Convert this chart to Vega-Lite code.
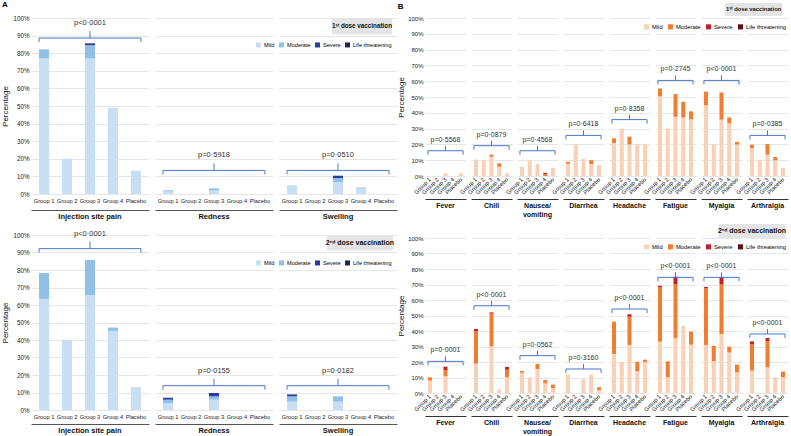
{
"$schema": "https://vega.github.io/schema/vega-lite/v6.json",
"padding": {"left": 1, "top": 1, "right": 1, "bottom": 1},
"config": {"font": "Liberation Sans", "view": {"stroke": null}, "title": {"font": "Liberation Sans"}, "axis": {"labelOverlap": false}},
"spacing": 0,
"resolve": {"scale": {"color": "independent"}},
"hconcat": [
{
"title": {"text": "A", "anchor": "start", "fontSize": 8, "fontWeight": "bold", "offset": 6, "frame": "bounds"},
"spacing": 8,
"resolve": {"scale": {"color": "independent"}},
"vconcat": [
{
"data": {"values": [
{"t":"bar","sym":"Injection site pain","grp":"Group 1","sev":"Mild","rk":1,"pct":77},
{"t":"bar","sym":"Injection site pain","grp":"Group 1","sev":"Moderate","rk":2,"pct":5.2},
{"t":"bar","sym":"Injection site pain","grp":"Group 2","sev":"Mild","rk":1,"pct":20},
{"t":"bar","sym":"Injection site pain","grp":"Group 3","sev":"Mild","rk":1,"pct":77},
{"t":"bar","sym":"Injection site pain","grp":"Group 3","sev":"Moderate","rk":2,"pct":7.5},
{"t":"bar","sym":"Injection site pain","grp":"Group 3","sev":"Severe","rk":3,"pct":1.1},
{"t":"bar","sym":"Injection site pain","grp":"Group 4","sev":"Mild","rk":1,"pct":49},
{"t":"bar","sym":"Injection site pain","grp":"Placebo","sev":"Mild","rk":1,"pct":13.3},
{"t":"bar","sym":"Redness","grp":"Group 1","sev":"Mild","rk":1,"pct":1.5},
{"t":"bar","sym":"Redness","grp":"Group 1","sev":"Moderate","rk":2,"pct":0.6},
{"t":"bar","sym":"Redness","grp":"Group 3","sev":"Mild","rk":1,"pct":2},
{"t":"bar","sym":"Redness","grp":"Group 3","sev":"Moderate","rk":2,"pct":1.2},
{"t":"bar","sym":"Swelling","grp":"Group 1","sev":"Mild","rk":1,"pct":5},
{"t":"bar","sym":"Swelling","grp":"Group 3","sev":"Mild","rk":1,"pct":6.6},
{"t":"bar","sym":"Swelling","grp":"Group 3","sev":"Moderate","rk":2,"pct":2.5},
{"t":"bar","sym":"Swelling","grp":"Group 3","sev":"Severe","rk":3,"pct":1.3},
{"t":"bar","sym":"Swelling","grp":"Group 4","sev":"Mild","rk":1,"pct":4},
{"t":"br","sym":"Injection site pain","lvl":88.6,"p":"p<0·0001"},
{"t":"br","sym":"Redness","lvl":13.4,"p":"p=0·5918"},
{"t":"br","sym":"Swelling","lvl":13.4,"p":"p=0·0510"},
{"t":"box","sym":"Swelling","label":"1ˢᵗ dose vaccination"}
]},
"facet": {"column": {"field": "sym", "type": "nominal", "sort": ["Injection site pain", "Redness", "Swelling"], "title": null, "header": {"labelOrient": "bottom", "labelFontWeight": "bold", "labelFontSize": 7.5, "labelPadding": 3, "labelColor": "#111"}}},
"spacing": 6,
"bounds": "flush",
"spec": {
"width": 118, "height": 176,
"layer": [
{"transform": [{"filter": "datum.t === 'bar'"}], "mark": {"type": "bar"},
 "encoding": {
  "x": {"field": "grp", "type": "nominal", "scale": {"domain": ["Group 1","Group 2","Group 3","Group 4","Placebo"], "paddingInner": 0.56, "paddingOuter": 0.35}, "axis": {"title": null, "labelAngle": 0, "ticks": false, "tickSize": 0, "offset": 16, "labelPadding": -13, "labelFontSize": 5.7, "labelOverlap": false, "labelColor": "#222", "domainColor": "#555", "grid": false}},
  "y": {"field": "pct", "type": "quantitative", "scale": {"domain": [0, 100]}, "axis": {"tickCount": 10, "labelExpr": "datum.value + '%'", "labelOverlap": false, "title": "Percentage", "domain": false, "ticks": false, "grid": true, "gridColor": "#e6e6e6", "labelFontSize": 6.3, "labelPadding": 2, "titleFontSize": 8, "titleFontWeight": "normal", "titlePadding": 3, "labelColor": "#222", "titleColor": "#111"}},
  "color": {"field": "sev", "type": "nominal", "scale": {"domain": ["Mild","Moderate","Severe","Life threatening"], "range": ["#c8def2","#8ec0e8","#2b3d99","#1e2454"]}, "legend": {"title": null, "orient": "none", "legendX": 224, "legendY": 23, "direction": "horizontal", "symbolType": "square", "symbolSize": 25, "labelFontSize": 5.6, "columnPadding": 3, "labelOffset": 2, "padding": 0}},
  "order": {"field": "rk", "type": "quantitative"}
 }},
{"transform": [{"filter": "datum.t === 'br'"}], "mark": {"type": "rule", "color": "#4b78c9", "strokeWidth": 1},
 "encoding": {"x": {"datum": "Group 1", "type": "nominal", "bandPosition": 0}, "x2": {"datum": "Placebo", "bandPosition": 1}, "y": {"field": "lvl", "type": "quantitative"}}},
{"transform": [{"filter": "datum.t === 'br'"}], "mark": {"type": "point", "shape": "M0,0L0,1", "size": 64, "filled": false, "color": "#4b78c9", "strokeWidth": 1, "opacity": 1},
 "encoding": {"x": {"datum": "Group 1", "type": "nominal", "bandPosition": 0}, "y": {"field": "lvl", "type": "quantitative"}}},
{"transform": [{"filter": "datum.t === 'br'"}], "mark": {"type": "point", "shape": "M0,0L0,1", "size": 64, "filled": false, "color": "#4b78c9", "strokeWidth": 1, "opacity": 1},
 "encoding": {"x": {"datum": "Placebo", "type": "nominal", "bandPosition": 1}, "y": {"field": "lvl", "type": "quantitative"}}},
{"transform": [{"filter": "datum.t === 'br'"}], "mark": {"type": "point", "shape": "M0,0L0,-1", "size": 196, "filled": false, "color": "#4b78c9", "strokeWidth": 1, "opacity": 1},
 "encoding": {"x": {"datum": "Group 3", "type": "nominal"}, "y": {"field": "lvl", "type": "quantitative"}}},
{"transform": [{"filter": "datum.t === 'br'"}], "mark": {"type": "text", "dy": -15, "fontSize": 7.5, "color": "#333"},
 "encoding": {"x": {"datum": "Group 3", "type": "nominal"}, "y": {"field": "lvl", "type": "quantitative"}, "text": {"field": "p"}}},
{"transform": [{"filter": "datum.t === 'box'"}], "mark": {"type": "point", "shape": "M-1,-0.27H1V0.27H-1Z", "size": 3600, "filled": true, "color": "#e4e4e4", "opacity": 1, "strokeWidth": 0},
 "encoding": {"x": {"datum": "Group 4", "type": "nominal", "bandPosition": 0.6}, "y": {"datum": 95.4, "type": "quantitative"}}},
{"transform": [{"filter": "datum.t === 'box'"}], "mark": {"type": "text", "fontSize": 6.3, "fontWeight": "bold", "color": "#111"},
 "encoding": {"x": {"datum": "Group 4", "type": "nominal", "bandPosition": 0.6}, "y": {"datum": 95.4, "type": "quantitative"}, "text": {"field": "label"}}}
]
}
},
{
"data": {"values": [
{"t":"bar","sym":"Injection site pain","grp":"Group 1","sev":"Mild","rk":1,"pct":63.5},
{"t":"bar","sym":"Injection site pain","grp":"Group 1","sev":"Moderate","rk":2,"pct":14.8},
{"t":"bar","sym":"Injection site pain","grp":"Group 2","sev":"Mild","rk":1,"pct":40},
{"t":"bar","sym":"Injection site pain","grp":"Group 3","sev":"Mild","rk":1,"pct":65.6},
{"t":"bar","sym":"Injection site pain","grp":"Group 3","sev":"Moderate","rk":2,"pct":20.1},
{"t":"bar","sym":"Injection site pain","grp":"Group 4","sev":"Mild","rk":1,"pct":45.2},
{"t":"bar","sym":"Injection site pain","grp":"Group 4","sev":"Moderate","rk":2,"pct":1.9},
{"t":"bar","sym":"Injection site pain","grp":"Placebo","sev":"Mild","rk":1,"pct":13.1},
{"t":"bar","sym":"Redness","grp":"Group 1","sev":"Mild","rk":1,"pct":4},
{"t":"bar","sym":"Redness","grp":"Group 1","sev":"Moderate","rk":2,"pct":1.9},
{"t":"bar","sym":"Redness","grp":"Group 1","sev":"Severe","rk":3,"pct":1.1},
{"t":"bar","sym":"Redness","grp":"Group 3","sev":"Mild","rk":1,"pct":5.9},
{"t":"bar","sym":"Redness","grp":"Group 3","sev":"Moderate","rk":2,"pct":1.9},
{"t":"bar","sym":"Redness","grp":"Group 3","sev":"Severe","rk":3,"pct":1.9},
{"t":"bar","sym":"Swelling","grp":"Group 1","sev":"Mild","rk":1,"pct":4.8},
{"t":"bar","sym":"Swelling","grp":"Group 1","sev":"Moderate","rk":2,"pct":3},
{"t":"bar","sym":"Swelling","grp":"Group 1","sev":"Severe","rk":3,"pct":1.1},
{"t":"bar","sym":"Swelling","grp":"Group 3","sev":"Mild","rk":1,"pct":4.8},
{"t":"bar","sym":"Swelling","grp":"Group 3","sev":"Moderate","rk":2,"pct":3},
{"t":"br","sym":"Injection site pain","lvl":92.2,"p":"p<0·0001"},
{"t":"br","sym":"Redness","lvl":13.9,"p":"p=0·0155"},
{"t":"br","sym":"Swelling","lvl":13.9,"p":"p=0·0182"},
{"t":"box","sym":"Swelling","label":"2ⁿᵈ dose vaccination"}
]},
"facet": {"column": {"field": "sym", "type": "nominal", "sort": ["Injection site pain", "Redness", "Swelling"], "title": null, "header": {"labelOrient": "bottom", "labelFontWeight": "bold", "labelFontSize": 7.5, "labelPadding": 3, "labelColor": "#111"}}},
"spacing": 6,
"bounds": "flush",
"spec": {
"width": 118, "height": 175,
"layer": [
{"transform": [{"filter": "datum.t === 'bar'"}], "mark": {"type": "bar"},
 "encoding": {
  "x": {"field": "grp", "type": "nominal", "scale": {"domain": ["Group 1","Group 2","Group 3","Group 4","Placebo"], "paddingInner": 0.56, "paddingOuter": 0.35}, "axis": {"title": null, "labelAngle": 0, "ticks": false, "tickSize": 0, "offset": 14, "labelPadding": -11, "labelFontSize": 5.7, "labelOverlap": false, "labelColor": "#222", "domainColor": "#555", "grid": false}},
  "y": {"field": "pct", "type": "quantitative", "scale": {"domain": [0, 100]}, "axis": {"tickCount": 10, "labelExpr": "datum.value + '%'", "labelOverlap": false, "title": "Percentage", "domain": false, "ticks": false, "grid": true, "gridColor": "#e6e6e6", "labelFontSize": 6.3, "labelPadding": 2, "titleFontSize": 8, "titleFontWeight": "normal", "titlePadding": 3, "labelColor": "#222", "titleColor": "#111"}},
  "color": {"field": "sev", "type": "nominal", "scale": {"domain": ["Mild","Moderate","Severe","Life threatening"], "range": ["#c8def2","#8ec0e8","#2b3d99","#1e2454"]}, "legend": {"title": null, "orient": "none", "legendX": 224, "legendY": 24, "direction": "horizontal", "symbolType": "square", "symbolSize": 25, "labelFontSize": 5.6, "columnPadding": 3, "labelOffset": 2, "padding": 0}},
  "order": {"field": "rk", "type": "quantitative"}
 }},
{"transform": [{"filter": "datum.t === 'br'"}], "mark": {"type": "rule", "color": "#4b78c9", "strokeWidth": 1},
 "encoding": {"x": {"datum": "Group 1", "type": "nominal", "bandPosition": 0}, "x2": {"datum": "Placebo", "bandPosition": 1}, "y": {"field": "lvl", "type": "quantitative"}}},
{"transform": [{"filter": "datum.t === 'br'"}], "mark": {"type": "point", "shape": "M0,0L0,1", "size": 64, "filled": false, "color": "#4b78c9", "strokeWidth": 1, "opacity": 1},
 "encoding": {"x": {"datum": "Group 1", "type": "nominal", "bandPosition": 0}, "y": {"field": "lvl", "type": "quantitative"}}},
{"transform": [{"filter": "datum.t === 'br'"}], "mark": {"type": "point", "shape": "M0,0L0,1", "size": 64, "filled": false, "color": "#4b78c9", "strokeWidth": 1, "opacity": 1},
 "encoding": {"x": {"datum": "Placebo", "type": "nominal", "bandPosition": 1}, "y": {"field": "lvl", "type": "quantitative"}}},
{"transform": [{"filter": "datum.t === 'br'"}], "mark": {"type": "point", "shape": "M0,0L0,-1", "size": 196, "filled": false, "color": "#4b78c9", "strokeWidth": 1, "opacity": 1},
 "encoding": {"x": {"datum": "Group 3", "type": "nominal"}, "y": {"field": "lvl", "type": "quantitative"}}},
{"transform": [{"filter": "datum.t === 'br'"}], "mark": {"type": "text", "dy": -15, "fontSize": 7.5, "color": "#333"},
 "encoding": {"x": {"datum": "Group 3", "type": "nominal"}, "y": {"field": "lvl", "type": "quantitative"}, "text": {"field": "p"}}},
{"transform": [{"filter": "datum.t === 'box'"}], "mark": {"type": "point", "shape": "M-1,-0.23H1V0.23H-1Z", "size": 4356, "filled": true, "color": "#e4e4e4", "opacity": 1, "strokeWidth": 0},
 "encoding": {"x": {"datum": "Group 4", "type": "nominal", "bandPosition": 0.4}, "y": {"datum": 95.6, "type": "quantitative"}}},
{"transform": [{"filter": "datum.t === 'box'"}], "mark": {"type": "text", "fontSize": 7, "fontWeight": "bold", "color": "#111"},
 "encoding": {"x": {"datum": "Group 4", "type": "nominal", "bandPosition": 0.4}, "y": {"datum": 95.6, "type": "quantitative"}, "text": {"field": "label"}}}
]
}
}
]
},
{
"title": {"text": "B", "anchor": "start", "fontSize": 8, "fontWeight": "bold", "offset": -8, "frame": "bounds"},
"spacing": 5,
"resolve": {"scale": {"color": "independent"}},
"vconcat": [
{
"data": {"values": [
{"t":"bar","sym":"Fever","grp":"Group 3","sev":"Mild","rk":1,"pct":1.7},
{"t":"bar","sym":"Fever","grp":"Placebo","sev":"Mild","rk":1,"pct":1.7},
{"t":"bar","sym":"Chill","grp":"Group 1","sev":"Mild","rk":1,"pct":10.5},
{"t":"bar","sym":"Chill","grp":"Group 2","sev":"Mild","rk":1,"pct":10},
{"t":"bar","sym":"Chill","grp":"Group 3","sev":"Mild","rk":1,"pct":12.2},
{"t":"bar","sym":"Chill","grp":"Group 3","sev":"Moderate","rk":2,"pct":1.3},
{"t":"bar","sym":"Chill","grp":"Group 4","sev":"Mild","rk":1,"pct":5.9},
{"t":"bar","sym":"Chill","grp":"Group 4","sev":"Moderate","rk":2,"pct":2.1},
{"t":"bar","sym":"Chill","grp":"Placebo","sev":"Mild","rk":1,"pct":1.7},
{"t":"bar","sym":"Nausea/ vomiting","grp":"Group 1","sev":"Mild","rk":1,"pct":5.9},
{"t":"bar","sym":"Nausea/ vomiting","grp":"Group 2","sev":"Mild","rk":1,"pct":10},
{"t":"bar","sym":"Nausea/ vomiting","grp":"Group 3","sev":"Mild","rk":1,"pct":7.6},
{"t":"bar","sym":"Nausea/ vomiting","grp":"Group 4","sev":"Moderate","rk":2,"pct":1.2},
{"t":"bar","sym":"Nausea/ vomiting","grp":"Group 4","sev":"Severe","rk":3,"pct":0.8},
{"t":"bar","sym":"Nausea/ vomiting","grp":"Placebo","sev":"Mild","rk":1,"pct":5},
{"t":"bar","sym":"Diarrhea","grp":"Group 1","sev":"Mild","rk":1,"pct":7.8},
{"t":"bar","sym":"Diarrhea","grp":"Group 1","sev":"Moderate","rk":2,"pct":1.1},
{"t":"bar","sym":"Diarrhea","grp":"Group 2","sev":"Mild","rk":1,"pct":20},
{"t":"bar","sym":"Diarrhea","grp":"Group 3","sev":"Mild","rk":1,"pct":10.8},
{"t":"bar","sym":"Diarrhea","grp":"Group 4","sev":"Mild","rk":1,"pct":7.6},
{"t":"bar","sym":"Diarrhea","grp":"Group 4","sev":"Moderate","rk":2,"pct":2.4},
{"t":"bar","sym":"Diarrhea","grp":"Placebo","sev":"Mild","rk":1,"pct":6.8},
{"t":"bar","sym":"Headache","grp":"Group 1","sev":"Mild","rk":1,"pct":20.9},
{"t":"bar","sym":"Headache","grp":"Group 1","sev":"Moderate","rk":2,"pct":2.9},
{"t":"bar","sym":"Headache","grp":"Group 2","sev":"Mild","rk":1,"pct":30},
{"t":"bar","sym":"Headache","grp":"Group 3","sev":"Mild","rk":1,"pct":20},
{"t":"bar","sym":"Headache","grp":"Group 3","sev":"Moderate","rk":2,"pct":4.9},
{"t":"bar","sym":"Headache","grp":"Group 4","sev":"Mild","rk":1,"pct":20},
{"t":"bar","sym":"Headache","grp":"Placebo","sev":"Mild","rk":1,"pct":20},
{"t":"bar","sym":"Fatigue","grp":"Group 1","sev":"Mild","rk":1,"pct":50.4},
{"t":"bar","sym":"Fatigue","grp":"Group 1","sev":"Moderate","rk":2,"pct":5},
{"t":"bar","sym":"Fatigue","grp":"Group 2","sev":"Mild","rk":1,"pct":30},
{"t":"bar","sym":"Fatigue","grp":"Group 3","sev":"Mild","rk":1,"pct":37.5},
{"t":"bar","sym":"Fatigue","grp":"Group 3","sev":"Moderate","rk":2,"pct":14.3},
{"t":"bar","sym":"Fatigue","grp":"Group 4","sev":"Mild","rk":1,"pct":37},
{"t":"bar","sym":"Fatigue","grp":"Group 4","sev":"Moderate","rk":2,"pct":10},
{"t":"bar","sym":"Fatigue","grp":"Placebo","sev":"Mild","rk":1,"pct":36},
{"t":"bar","sym":"Fatigue","grp":"Placebo","sev":"Moderate","rk":2,"pct":4.9},
{"t":"bar","sym":"Myalgia","grp":"Group 1","sev":"Mild","rk":1,"pct":44.7},
{"t":"bar","sym":"Myalgia","grp":"Group 1","sev":"Moderate","rk":2,"pct":8.7},
{"t":"bar","sym":"Myalgia","grp":"Group 2","sev":"Mild","rk":1,"pct":20},
{"t":"bar","sym":"Myalgia","grp":"Group 3","sev":"Mild","rk":1,"pct":35.7},
{"t":"bar","sym":"Myalgia","grp":"Group 3","sev":"Moderate","rk":2,"pct":17.2},
{"t":"bar","sym":"Myalgia","grp":"Group 4","sev":"Mild","rk":1,"pct":33.3},
{"t":"bar","sym":"Myalgia","grp":"Group 4","sev":"Moderate","rk":2,"pct":3.8},
{"t":"bar","sym":"Myalgia","grp":"Placebo","sev":"Mild","rk":1,"pct":20},
{"t":"bar","sym":"Myalgia","grp":"Placebo","sev":"Moderate","rk":2,"pct":1.5},
{"t":"bar","sym":"Arthralgia","grp":"Group 1","sev":"Mild","rk":1,"pct":17.7},
{"t":"bar","sym":"Arthralgia","grp":"Group 1","sev":"Moderate","rk":2,"pct":2.1},
{"t":"bar","sym":"Arthralgia","grp":"Group 2","sev":"Mild","rk":1,"pct":10.1},
{"t":"bar","sym":"Arthralgia","grp":"Group 3","sev":"Mild","rk":1,"pct":13.5},
{"t":"bar","sym":"Arthralgia","grp":"Group 3","sev":"Moderate","rk":2,"pct":6.7},
{"t":"bar","sym":"Arthralgia","grp":"Group 4","sev":"Mild","rk":1,"pct":10},
{"t":"bar","sym":"Arthralgia","grp":"Group 4","sev":"Moderate","rk":2,"pct":2},
{"t":"bar","sym":"Arthralgia","grp":"Placebo","sev":"Mild","rk":1,"pct":5},
{"t":"br","sym":"Fever","lvl":16,"p":"p=0·5568"},
{"t":"br","sym":"Chill","lvl":19.2,"p":"p=0·0879"},
{"t":"br","sym":"Nausea/ vomiting","lvl":16,"p":"p=0·4568"},
{"t":"br","sym":"Diarrhea","lvl":25.7,"p":"p=0·6418"},
{"t":"br","sym":"Headache","lvl":35.7,"p":"p=0·8358"},
{"t":"br","sym":"Fatigue","lvl":60.5,"p":"p=0·2745"},
{"t":"br","sym":"Myalgia","lvl":60.5,"p":"p<0·0001"},
{"t":"br","sym":"Arthralgia","lvl":25.7,"p":"p=0·0385"},
{"t":"box","sym":"Arthralgia","label":"1ˢᵗ dose vaccination"}
]},
"facet": {"column": {"field": "sym", "type": "nominal", "sort": ["Fever","Chill","Nausea/ vomiting","Diarrhea","Headache","Fatigue","Myalgia","Arthralgia"], "title": null, "header": {"labelOrient": "bottom", "labelFontWeight": "bold", "labelFontSize": 7, "labelPadding": 3, "labelColor": "#111", "labelExpr": "datum.value == 'Nausea/ vomiting' ? ['Nausea/', 'vomiting'] : datum.value"}}},
"spacing": 5,
"bounds": "flush",
"spec": {
"width": 41, "height": 158,
"layer": [
{"transform": [{"filter": "datum.t === 'bar'"}], "mark": {"type": "bar"},
 "encoding": {
  "x": {"field": "grp", "type": "nominal", "scale": {"domain": ["Group 1","Group 2","Group 3","Group 4","Placebo"], "paddingInner": 0.48, "paddingOuter": 0.38}, "axis": {"title": null, "labelAngle": -45, "labelAlign": "right", "labelBaseline": "middle", "ticks": false, "tickSize": 0, "offset": 23, "labelPadding": -21, "labelFontSize": 5.8, "labelOverlap": false, "labelColor": "#222", "domainColor": "#333", "grid": false}},
  "y": {"field": "pct", "type": "quantitative", "scale": {"domain": [0, 100]}, "axis": {"tickCount": 10, "labelExpr": "datum.value + '%'", "labelOverlap": false, "title": "Percentage", "domain": false, "ticks": false, "grid": true, "gridColor": "#e6e6e6", "labelFontSize": 6, "labelPadding": 2, "titleFontSize": 8, "titleFontWeight": "normal", "titlePadding": 2, "labelColor": "#222", "titleColor": "#111"}},
  "color": {"field": "sev", "type": "nominal", "scale": {"domain": ["Mild","Moderate","Severe","Life threatening"], "range": ["#f8d1b6","#ee7f32","#c1222e","#5a1212"]}, "legend": {"title": null, "orient": "none", "legendX": 218, "legendY": 5, "direction": "horizontal", "symbolType": "square", "symbolSize": 26, "labelFontSize": 5.8, "columnPadding": 4, "labelOffset": 2, "padding": 0}},
  "order": {"field": "rk", "type": "quantitative"}
 }},
{"transform": [{"filter": "datum.t === 'br'"}], "mark": {"type": "rule", "color": "#4b78c9", "strokeWidth": 1},
 "encoding": {"x": {"datum": "Group 1", "type": "nominal", "bandPosition": 0}, "x2": {"datum": "Placebo", "bandPosition": 1}, "y": {"field": "lvl", "type": "quantitative"}}},
{"transform": [{"filter": "datum.t === 'br'"}], "mark": {"type": "point", "shape": "M0,0L0,1", "size": 64, "filled": false, "color": "#4b78c9", "strokeWidth": 1, "opacity": 1},
 "encoding": {"x": {"datum": "Group 1", "type": "nominal", "bandPosition": 0}, "y": {"field": "lvl", "type": "quantitative"}}},
{"transform": [{"filter": "datum.t === 'br'"}], "mark": {"type": "point", "shape": "M0,0L0,1", "size": 64, "filled": false, "color": "#4b78c9", "strokeWidth": 1, "opacity": 1},
 "encoding": {"x": {"datum": "Placebo", "type": "nominal", "bandPosition": 1}, "y": {"field": "lvl", "type": "quantitative"}}},
{"transform": [{"filter": "datum.t === 'br'"}], "mark": {"type": "point", "shape": "M0,0L0,-1", "size": 100, "filled": false, "color": "#4b78c9", "strokeWidth": 1, "opacity": 1},
 "encoding": {"x": {"datum": "Group 3", "type": "nominal"}, "y": {"field": "lvl", "type": "quantitative"}}},
{"transform": [{"filter": "datum.t === 'br'"}], "mark": {"type": "text", "dy": -11, "fontSize": 7, "color": "#333"},
 "encoding": {"x": {"datum": "Group 3", "type": "nominal"}, "y": {"field": "lvl", "type": "quantitative"}, "text": {"field": "p"}}},
{"transform": [{"filter": "datum.t === 'box'"}], "mark": {"type": "point", "shape": "M-1,-0.23H1V0.23H-1Z", "size": 3249, "filled": true, "color": "#e4e4e4", "opacity": 1, "strokeWidth": 0},
 "encoding": {"x": {"datum": "Group 1", "type": "nominal", "bandPosition": 0.9}, "y": {"datum": 105.4, "type": "quantitative"}}},
{"transform": [{"filter": "datum.t === 'box'"}], "mark": {"type": "text", "fontSize": 5.8, "fontWeight": "bold", "color": "#111"},
 "encoding": {"x": {"datum": "Group 1", "type": "nominal", "bandPosition": 0.9}, "y": {"datum": 105.4, "type": "quantitative"}, "text": {"field": "label"}}}
]
}
},
{
"data": {"values": [
{"t":"bar","sym":"Fever","grp":"Group 1","sev":"Mild","rk":1,"pct":8},
{"t":"bar","sym":"Fever","grp":"Group 1","sev":"Moderate","rk":2,"pct":2.1},
{"t":"bar","sym":"Fever","grp":"Group 3","sev":"Mild","rk":1,"pct":10.8},
{"t":"bar","sym":"Fever","grp":"Group 3","sev":"Moderate","rk":2,"pct":4},
{"t":"bar","sym":"Fever","grp":"Group 3","sev":"Severe","rk":3,"pct":2.2},
{"t":"bar","sym":"Chill","grp":"Group 1","sev":"Mild","rk":1,"pct":18.9},
{"t":"bar","sym":"Chill","grp":"Group 1","sev":"Moderate","rk":2,"pct":21.1},
{"t":"bar","sym":"Chill","grp":"Group 1","sev":"Severe","rk":3,"pct":1.3},
{"t":"bar","sym":"Chill","grp":"Group 3","sev":"Mild","rk":1,"pct":30.1},
{"t":"bar","sym":"Chill","grp":"Group 3","sev":"Moderate","rk":2,"pct":21.1},
{"t":"bar","sym":"Chill","grp":"Group 3","sev":"Severe","rk":3,"pct":0.8},
{"t":"bar","sym":"Chill","grp":"Group 4","sev":"Mild","rk":1,"pct":2.4},
{"t":"bar","sym":"Chill","grp":"Placebo","sev":"Mild","rk":1,"pct":10.1},
{"t":"bar","sym":"Chill","grp":"Placebo","sev":"Moderate","rk":2,"pct":4.9},
{"t":"bar","sym":"Chill","grp":"Placebo","sev":"Severe","rk":3,"pct":1.8},
{"t":"bar","sym":"Nausea/ vomiting","grp":"Group 1","sev":"Mild","rk":1,"pct":13.1},
{"t":"bar","sym":"Nausea/ vomiting","grp":"Group 1","sev":"Moderate","rk":2,"pct":1.1},
{"t":"bar","sym":"Nausea/ vomiting","grp":"Group 2","sev":"Mild","rk":1,"pct":10.1},
{"t":"bar","sym":"Nausea/ vomiting","grp":"Group 3","sev":"Mild","rk":1,"pct":15.5},
{"t":"bar","sym":"Nausea/ vomiting","grp":"Group 3","sev":"Moderate","rk":2,"pct":3.2},
{"t":"bar","sym":"Nausea/ vomiting","grp":"Group 4","sev":"Mild","rk":1,"pct":6.2},
{"t":"bar","sym":"Nausea/ vomiting","grp":"Group 4","sev":"Moderate","rk":2,"pct":2.2},
{"t":"bar","sym":"Nausea/ vomiting","grp":"Placebo","sev":"Mild","rk":1,"pct":3.2},
{"t":"bar","sym":"Nausea/ vomiting","grp":"Placebo","sev":"Moderate","rk":2,"pct":2.2},
{"t":"bar","sym":"Diarrhea","grp":"Group 1","sev":"Mild","rk":1,"pct":12},
{"t":"bar","sym":"Diarrhea","grp":"Group 3","sev":"Mild","rk":1,"pct":8.8},
{"t":"bar","sym":"Diarrhea","grp":"Group 4","sev":"Mild","rk":1,"pct":12},
{"t":"bar","sym":"Diarrhea","grp":"Placebo","sev":"Mild","rk":1,"pct":1.9},
{"t":"bar","sym":"Diarrhea","grp":"Placebo","sev":"Moderate","rk":2,"pct":1.8},
{"t":"bar","sym":"Headache","grp":"Group 1","sev":"Mild","rk":1,"pct":25.2},
{"t":"bar","sym":"Headache","grp":"Group 1","sev":"Moderate","rk":2,"pct":20.8},
{"t":"bar","sym":"Headache","grp":"Group 2","sev":"Mild","rk":1,"pct":20.2},
{"t":"bar","sym":"Headache","grp":"Group 3","sev":"Mild","rk":1,"pct":31},
{"t":"bar","sym":"Headache","grp":"Group 3","sev":"Moderate","rk":2,"pct":18.2},
{"t":"bar","sym":"Headache","grp":"Group 3","sev":"Severe","rk":3,"pct":1.6},
{"t":"bar","sym":"Headache","grp":"Group 4","sev":"Mild","rk":1,"pct":14},
{"t":"bar","sym":"Headache","grp":"Group 4","sev":"Moderate","rk":2,"pct":6.2},
{"t":"bar","sym":"Headache","grp":"Placebo","sev":"Mild","rk":1,"pct":20},
{"t":"bar","sym":"Headache","grp":"Placebo","sev":"Moderate","rk":2,"pct":1.5},
{"t":"bar","sym":"Fatigue","grp":"Group 1","sev":"Mild","rk":1,"pct":33.1},
{"t":"bar","sym":"Fatigue","grp":"Group 1","sev":"Moderate","rk":2,"pct":35.1},
{"t":"bar","sym":"Fatigue","grp":"Group 1","sev":"Severe","rk":3,"pct":1},
{"t":"bar","sym":"Fatigue","grp":"Group 2","sev":"Mild","rk":1,"pct":10.1},
{"t":"bar","sym":"Fatigue","grp":"Group 2","sev":"Moderate","rk":2,"pct":10.3},
{"t":"bar","sym":"Fatigue","grp":"Group 3","sev":"Mild","rk":1,"pct":35.3},
{"t":"bar","sym":"Fatigue","grp":"Group 3","sev":"Moderate","rk":2,"pct":35},
{"t":"bar","sym":"Fatigue","grp":"Group 3","sev":"Severe","rk":3,"pct":4.7},
{"t":"bar","sym":"Fatigue","grp":"Group 4","sev":"Mild","rk":1,"pct":43.4},
{"t":"bar","sym":"Fatigue","grp":"Placebo","sev":"Mild","rk":1,"pct":31.2},
{"t":"bar","sym":"Fatigue","grp":"Placebo","sev":"Moderate","rk":2,"pct":8.4},
{"t":"bar","sym":"Myalgia","grp":"Group 1","sev":"Mild","rk":1,"pct":31},
{"t":"bar","sym":"Myalgia","grp":"Group 1","sev":"Moderate","rk":2,"pct":36.5},
{"t":"bar","sym":"Myalgia","grp":"Group 1","sev":"Severe","rk":3,"pct":0.9},
{"t":"bar","sym":"Myalgia","grp":"Group 2","sev":"Mild","rk":1,"pct":20.4},
{"t":"bar","sym":"Myalgia","grp":"Group 2","sev":"Moderate","rk":2,"pct":10.1},
{"t":"bar","sym":"Myalgia","grp":"Group 3","sev":"Mild","rk":1,"pct":38},
{"t":"bar","sym":"Myalgia","grp":"Group 3","sev":"Moderate","rk":2,"pct":32.3},
{"t":"bar","sym":"Myalgia","grp":"Group 3","sev":"Severe","rk":3,"pct":4.3},
{"t":"bar","sym":"Myalgia","grp":"Group 4","sev":"Mild","rk":1,"pct":26.2},
{"t":"bar","sym":"Myalgia","grp":"Group 4","sev":"Moderate","rk":2,"pct":3.7},
{"t":"bar","sym":"Myalgia","grp":"Placebo","sev":"Mild","rk":1,"pct":13.3},
{"t":"bar","sym":"Myalgia","grp":"Placebo","sev":"Moderate","rk":2,"pct":5},
{"t":"bar","sym":"Arthralgia","grp":"Group 1","sev":"Mild","rk":1,"pct":14.4},
{"t":"bar","sym":"Arthralgia","grp":"Group 1","sev":"Moderate","rk":2,"pct":17},
{"t":"bar","sym":"Arthralgia","grp":"Group 1","sev":"Severe","rk":3,"pct":1.9},
{"t":"bar","sym":"Arthralgia","grp":"Group 3","sev":"Mild","rk":1,"pct":16.6},
{"t":"bar","sym":"Arthralgia","grp":"Group 3","sev":"Moderate","rk":2,"pct":16.9},
{"t":"bar","sym":"Arthralgia","grp":"Group 3","sev":"Severe","rk":3,"pct":2},
{"t":"bar","sym":"Arthralgia","grp":"Group 4","sev":"Mild","rk":1,"pct":10.1},
{"t":"bar","sym":"Arthralgia","grp":"Placebo","sev":"Mild","rk":1,"pct":10.1},
{"t":"bar","sym":"Arthralgia","grp":"Placebo","sev":"Moderate","rk":2,"pct":3.7},
{"t":"br","sym":"Fever","lvl":20.4,"p":"p=0·0001"},
{"t":"br","sym":"Chill","lvl":56.3,"p":"p<0·0001"},
{"t":"br","sym":"Nausea/ vomiting","lvl":24.1,"p":"p=0·0562"},
{"t":"br","sym":"Diarrhea","lvl":15.5,"p":"p=0·3160"},
{"t":"br","sym":"Headache","lvl":54.2,"p":"p<0·0001"},
{"t":"br","sym":"Fatigue","lvl":74.6,"p":"p<0·0001"},
{"t":"br","sym":"Myalgia","lvl":74.6,"p":"p<0·0001"},
{"t":"br","sym":"Arthralgia","lvl":38.1,"p":"p<0·0001"},
{"t":"box","sym":"Arthralgia","label":"2ⁿᵈ dose vaccination"}
]},
"facet": {"column": {"field": "sym", "type": "nominal", "sort": ["Fever","Chill","Nausea/ vomiting","Diarrhea","Headache","Fatigue","Myalgia","Arthralgia"], "title": null, "header": {"labelOrient": "bottom", "labelFontWeight": "bold", "labelFontSize": 7, "labelPadding": 3, "labelColor": "#111", "labelExpr": "datum.value == 'Nausea/ vomiting' ? ['Nausea/', 'vomiting'] : datum.value"}}},
"spacing": 5,
"bounds": "flush",
"spec": {
"width": 41, "height": 155,
"layer": [
{"transform": [{"filter": "datum.t === 'bar'"}], "mark": {"type": "bar"},
 "encoding": {
  "x": {"field": "grp", "type": "nominal", "scale": {"domain": ["Group 1","Group 2","Group 3","Group 4","Placebo"], "paddingInner": 0.48, "paddingOuter": 0.38}, "axis": {"title": null, "labelAngle": -45, "labelAlign": "right", "labelBaseline": "middle", "ticks": false, "tickSize": 0, "offset": 23, "labelPadding": -21, "labelFontSize": 5.8, "labelOverlap": false, "labelColor": "#222", "domainColor": "#333", "grid": false}},
  "y": {"field": "pct", "type": "quantitative", "scale": {"domain": [0, 100]}, "axis": {"tickCount": 10, "labelExpr": "datum.value + '%'", "labelOverlap": false, "title": "Percentage", "domain": false, "ticks": false, "grid": true, "gridColor": "#e6e6e6", "labelFontSize": 6, "labelPadding": 2, "titleFontSize": 8, "titleFontWeight": "normal", "titlePadding": 2, "labelColor": "#222", "titleColor": "#111"}},
  "color": {"field": "sev", "type": "nominal", "scale": {"domain": ["Mild","Moderate","Severe","Life threatening"], "range": ["#f8d1b6","#ee7f32","#c1222e","#5a1212"]}, "legend": {"title": null, "orient": "none", "legendX": 218, "legendY": 5, "direction": "horizontal", "symbolType": "square", "symbolSize": 26, "labelFontSize": 5.8, "columnPadding": 4, "labelOffset": 2, "padding": 0}},
  "order": {"field": "rk", "type": "quantitative"}
 }},
{"transform": [{"filter": "datum.t === 'br'"}], "mark": {"type": "rule", "color": "#4b78c9", "strokeWidth": 1},
 "encoding": {"x": {"datum": "Group 1", "type": "nominal", "bandPosition": 0}, "x2": {"datum": "Placebo", "bandPosition": 1}, "y": {"field": "lvl", "type": "quantitative"}}},
{"transform": [{"filter": "datum.t === 'br'"}], "mark": {"type": "point", "shape": "M0,0L0,1", "size": 64, "filled": false, "color": "#4b78c9", "strokeWidth": 1, "opacity": 1},
 "encoding": {"x": {"datum": "Group 1", "type": "nominal", "bandPosition": 0}, "y": {"field": "lvl", "type": "quantitative"}}},
{"transform": [{"filter": "datum.t === 'br'"}], "mark": {"type": "point", "shape": "M0,0L0,1", "size": 64, "filled": false, "color": "#4b78c9", "strokeWidth": 1, "opacity": 1},
 "encoding": {"x": {"datum": "Placebo", "type": "nominal", "bandPosition": 1}, "y": {"field": "lvl", "type": "quantitative"}}},
{"transform": [{"filter": "datum.t === 'br'"}], "mark": {"type": "point", "shape": "M0,0L0,-1", "size": 100, "filled": false, "color": "#4b78c9", "strokeWidth": 1, "opacity": 1},
 "encoding": {"x": {"datum": "Group 3", "type": "nominal"}, "y": {"field": "lvl", "type": "quantitative"}}},
{"transform": [{"filter": "datum.t === 'br'"}], "mark": {"type": "text", "dy": -11, "fontSize": 7, "color": "#333"},
 "encoding": {"x": {"datum": "Group 3", "type": "nominal"}, "y": {"field": "lvl", "type": "quantitative"}, "text": {"field": "p"}}},
{"transform": [{"filter": "datum.t === 'box'"}], "mark": {"type": "point", "shape": "M-1,-0.21H1V0.21H-1Z", "size": 4489, "filled": true, "color": "#e4e4e4", "opacity": 1, "strokeWidth": 0},
 "encoding": {"x": {"datum": "Group 1", "type": "nominal", "bandPosition": 0.5}, "y": {"datum": 104.5, "type": "quantitative"}}},
{"transform": [{"filter": "datum.t === 'box'"}], "mark": {"type": "text", "fontSize": 7, "fontWeight": "bold", "color": "#111"},
 "encoding": {"x": {"datum": "Group 1", "type": "nominal", "bandPosition": 0.5}, "y": {"datum": 104.5, "type": "quantitative"}, "text": {"field": "label"}}}
]
}
}
]
}
]
}
